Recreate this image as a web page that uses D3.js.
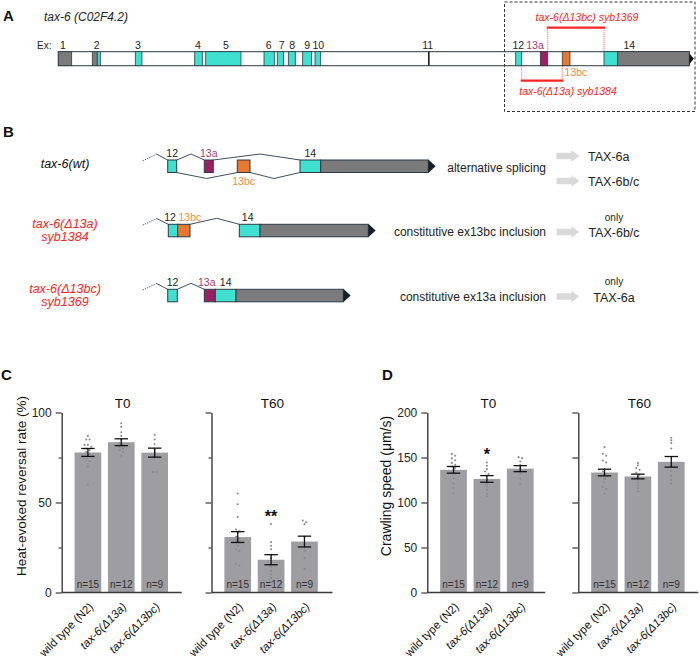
<!DOCTYPE html>
<html><head><meta charset="utf-8">
<script src="https://cdn.jsdelivr.net/npm/d3@7"></script>
<style>
body{margin:0;background:#fff}
svg{display:block}
text{font-family:"Liberation Sans",Arial,Helvetica,sans-serif}
</style>
</head><body>
<svg id="c" width="700" height="658"></svg>
<script>
// ---------------- DATA ----------------
// Panel A: gene model of tax-6 in gene units (0..1000)
const geneSegments = [
  [0,21.2,"utr"],[53.9,61.8,"utr"],[61.8,66.6,"cds"],[122,132.6,"cds"],
  [216.2,228.2,"cds"],[233.6,289.5,"cds"],[326,342.3,"cds"],[347,357.2,"cds"],
  [364.5,375.6,"cds"],[387.3,401.6,"cds"],[406.8,415.8,"cds"],[586,588.4,"tiny"],
  [724.9,734.4,"cds"],[763.9,775.6,"e13a"],[798.7,810.9,"e13bc"],
  [864.8,886.5,"cds"],[886.5,1000,"utr"]
];
const exonLabels = [
  ["1",7.4],["2",60.9],["3",126.3],["4",221.4],["5",265.8],["6",333.4],["7",354],
  ["8",370.8],["9",394.6],["10",412],["11",585.4],["12",729],["13a",755.5],["14",905]
];
const deletionBrackets = [
  {label:"tax-6(\u039413bc) syb1369", from:775.6, to:864.8, side:"top"},
  {label:"tax-6(\u039413a) syb1384", from:734.4, to:798.7, side:"bottom"}
];

// Panel B: schematic isoforms (schematic units)
const isoformRows = [
  {name:["tax-6(wt)"], red:false,
   exons:[["12",32.7,41.7,"cds",0,"top"],["13a",69.3,78.3,"e13a",0,"top"],["13bc",102.3,115,"e13bc",0,"bottom"],["14",165,185.7,"cds",0,"top"],["",185.7,293.3,"utr",0,"top"]],
   introns:[[0,1,56,"top"],[1,3,125,"top"],[0,2,71.7,"bottom"],[2,3,139,"bottom"]],
   effect:"alternative splicing", products:[["TAX-6a",""],["TAX-6b/c",""]]},
  {name:["tax-6(\u039413a)","syb1384"], red:true,
   exons:[["12",33.3,42.7,"cds",-3,"top"],["13bc",42.7,55,"e13bc",6,"top"],["14",104.3,125,"cds",-2,"top"],["",125,233.3,"utr",0,"top"]],
   introns:[[1,2,81.7,"top"]],
   effect:"constitutive ex13bc inclusion", products:[["TAX-6b/c","only"]]},
  {name:["tax-6(\u039413bc)","syb1369"], red:true,
   exons:[["12",32.7,42.3,"cds",0,"top"],["13a",69.3,80.3,"e13a",-3,"top"],["14",80.3,101,"cds",0,"top"],["",101,208.3,"utr",0,"top"]],
   introns:[[0,1,56,"top"]],
   effect:"constitutive ex13a inclusion", products:[["TAX-6a","only"]]}
];

// Panels C & D
const genotypes = ["wild type (N2)","tax-6(\u039413a)","tax-6(\u039413bc)"];
const genotypeItalic = [false,true,true];
const nCounts = [15,12,9];

const reversalT0Mean = [77.8,83.5,77.7];
const reversalT0Sem  = [2.2,1.9,2.5];
const reversalT60Mean = [30.8,18.2,28.3];
const reversalT60Sem  = [3.0,2.8,3.0];
const reversalT0Points = [
  [87,85,85,82,82,81,80,79,78,77,76,74,73,70,60],
  [94,92,89,87,85,83,82,81,80,79,78,76],
  [87.5,85,82.4,79.3,77.8,76.5,75,66.9,66.9]
];
const reversalT60Points = [
  [55,49,42,35,34,33,31,30,29,28,26,24,23,16,15],
  [38,28,26,24,21,19,16,14,12,10,8,6],
  [40,39,38,31,27,25,23,19,13]
];
const reversalSig = ["","",""];
const reversalT60Sig = ["","**",""];

const speedT0Mean = [136.3,126.2,137.6];
const speedT0Sem  = [3.7,3.7,3.3];
const speedT60Mean = [133.3,128.9,145.2];
const speedT60Sem  = [3.7,2.6,5.9];
const speedT0Points = [
  [154,152,149,147,144,142,140,138,136,133,132,127,121,116,110],
  [144.4,140.8,137.1,134.4,131.9,129.7,125.2,120.8,117.8,114.1,109.7,106.7],
  [150.4,149.3,145.6,141.9,138.2,135.6,132.6,126.3,120.8]
];
const speedT60Points = [
  [161.5,154.1,151.9,146.7,144.4,137.1,134.4,131.9,130,128.9,126,122.2,117.1,114.9,109.7],
  [143.7,141.1,138.2,136.3,133.3,130.8,128.2,125.2,122.2,118.9,116,112.2],
  [172,169,166,160,142,135,130,125,121]
];
const speedT0Sig = ["","*",""];
const speedT60Sig = ["","",""];

const reversalMajorTicks = [0,50,100];
const reversalMinorTicks = [25,75];
const speedMajorTicks = [0,50,100,150,200];

// ---------------- STYLE ----------------
const OUT = "#2b3a47";
const COL = {utr:"#7b7b7b", cds:"#3fe0cf", e13a:"#9c1f62", e13bc:"#e8772f", tiny:"#111"};
const RED = "#ff2424";
const MAG = "#a23a78";
const ORA = "#ee8a45";
const svg = d3.select("#c");

function txt(g, x, y, s, opts={}) {
  const t = g.append("text").attr("x",x).attr("y",y).text(s)
    .attr("font-size", opts.size||12).attr("fill", opts.fill||"#111")
    .attr("text-anchor", opts.anchor||"start");
  if (opts.italic) t.attr("font-style","italic");
  if (opts.bold) t.attr("font-weight","bold");
  return t;
}

// ---------------- PANEL A ----------------
const gA = svg.append("g");
txt(gA, 3, 21, "A", {size:15, bold:true});
txt(gA, 44, 21, "tax-6 (C02F4.2)", {size:12, italic:true, fill:"#222"});
txt(gA, 37, 49, "Ex:", {size:10, fill:"#222"});
const xA = d3.scaleLinear().domain([0,1000]).range([58.3,689.3]);
const aTop = 51.7, aH = 14;
gA.append("rect").attr("x",xA(0)).attr("y",aTop).attr("width",xA(1000)-xA(0)).attr("height",aH)
  .attr("fill","#fff").attr("stroke",OUT).attr("stroke-width",1);
gA.selectAll("rect.ex").data(geneSegments).join("rect").attr("class","ex")
  .attr("x",d=>xA(d[0])).attr("width",d=>xA(d[1])-xA(d[0]))
  .attr("y",aTop).attr("height",aH).attr("fill",d=>COL[d[2]])
  .attr("stroke",d=>d[2]==="tiny"?"none":OUT).attr("stroke-width",0.8);
gA.append("path").attr("d",`M${xA(1000)},${aTop+1.5}L${xA(1000)+4.5},${aTop+aH/2}L${xA(1000)},${aTop+aH-1.5}Z`).attr("fill","#111");
gA.selectAll("text.el").data(exonLabels).join("text").attr("class","el")
  .attr("x",d=>xA(d[1])).attr("y",49).attr("text-anchor","middle").attr("font-size",10.5)
  .attr("fill",d=>d[0]==="13a"?MAG:"#222").text(d=>d[0]);
txt(gA, xA(820.4), 75.5, "13bc", {size:10.5, fill:ORA, anchor:"middle"});
// dashed box
gA.append("rect").attr("x",504.5).attr("y",2).attr("width",190.5).attr("height",109.5)
  .attr("fill","none").attr("stroke","#333").attr("stroke-width",1).attr("stroke-dasharray","3,2");
deletionBrackets.forEach(b=>{
  const yb = b.side==="top" ? 27.7 : 80.7;
  const ye = b.side==="top" ? aTop : aTop+aH;
  [b.from,b.to].forEach(v=>{
    gA.append("line").attr("x1",xA(v)).attr("x2",xA(v)).attr("y1",yb).attr("y2",ye)
      .attr("stroke",RED).attr("stroke-width",0.8).attr("stroke-dasharray","1,1");
  });
  gA.append("line").attr("x1",xA(b.from)-1).attr("x2",xA(b.to)+1).attr("y1",yb).attr("y2",yb)
    .attr("stroke",RED).attr("stroke-width",2.2);
  const cx = b.side==="top" ? 587 : 568;
  const ty = b.side==="top" ? 20.5 : 95;
  txt(gA, cx, ty, b.label, {size:10.5, italic:true, fill:RED, anchor:"middle"});
});

// ---------------- PANEL B ----------------
const gB = svg.append("g");
txt(gB, 3, 137, "B", {size:15, bold:true});
const xB = d3.scaleLinear().domain([0,300]).range([135,435]);
const rowTops = [160, 224.3, 289.3];
const eH = 12.5;
const arrowYs = [[156,181],[232],[296.5]];
isoformRows.forEach((row,ri)=>{
  const top = rowTops[ri], bot = top+eH;
  // names
  if (row.name.length===1) {
    txt(gB, 65, top+8, row.name[0], {size:12.5, italic:true, fill:"#111", anchor:"middle"});
  } else {
    txt(gB, 65, top+3.5, row.name[0], {size:12.5, italic:true, fill:RED, anchor:"middle"});
    txt(gB, 65, top+16.5, row.name[1], {size:12.5, italic:true, fill:RED, anchor:"middle"});
  }
  // leading intron
  const e0 = row.exons[0];
  gB.append("line").attr("x1",xB(7.7)).attr("y1",top+0.8).attr("x2",xB(21.7)).attr("y2",top-5.8)
    .attr("stroke",OUT).attr("stroke-width",0.9).attr("stroke-dasharray","1.2,1.2");
  gB.append("path").attr("d",`M${xB(21.7)},${top-5.8}L${xB(e0[1])},${top}`)
    .attr("fill","none").attr("stroke",OUT).attr("stroke-width",0.9);
  // introns
  row.introns.forEach(([a,b,px,side])=>{
    const ea=row.exons[a], eb=row.exons[b];
    const y0 = side==="top"?top:bot;
    const yp = side==="top"?top-6:bot+6;
    gB.append("path").attr("d",`M${xB(ea[2])},${y0}L${xB(px)},${yp}L${xB(eb[1])},${y0}`)
      .attr("fill","none").attr("stroke",OUT).attr("stroke-width",0.9);
  });
  // exons
  row.exons.forEach(e=>{
    gB.append("rect").attr("x",xB(e[1])).attr("y",top).attr("width",xB(e[2])-xB(e[1])).attr("height",eH)
      .attr("fill",COL[e[3]]).attr("stroke",OUT).attr("stroke-width",1);
    if (e[0]) {
      const cx = (xB(e[1])+xB(e[2]))/2 + e[4];
      const fill = e[0]==="13a"?MAG:(e[0]==="13bc"?ORA:"#222");
      const y = e[5]==="top" ? top-3.3 : bot+12.5;
      txt(gB, cx, y, e[0], {size:10.5, fill, anchor:"middle"});
    }
  });
  const last = row.exons[row.exons.length-1];
  const xe = xB(last[2]);
  gB.append("path").attr("d",`M${xe},${top-0.5}L${xe+7.3},${top+eH/2}L${xe},${bot+0.5}Z`).attr("fill","#10202e");
  // effect text
  const effY = [172, 236, 300.5][ri];
  txt(gB, 546, effY, row.effect, {size:12, fill:"#222", anchor:"end"});
  // arrows + products
  row.products.forEach((p,pi)=>{
    const ay = arrowYs[ri][pi];
    gB.append("path").attr("d",`M556.5,${ay-3.2}L571.5,${ay-3.2}L571.5,${ay-5.8}L579.5,${ay}L571.5,${ay+5.8}L571.5,${ay+3.2}L556.5,${ay+3.2}Z`)
      .attr("fill","#d9d9d9");
    if (p[1]) {
      txt(gB, 614, ay-11.5, p[1], {size:10, fill:"#222", anchor:"middle"});
      txt(gB, 614, ay+5, p[0], {size:12.5, fill:"#222", anchor:"middle"});
    } else {
      txt(gB, 588, ay+4.5, p[0], {size:12.5, fill:"#222"});
    }
  });
});

// ---------------- PANELS C & D ----------------
const yTop = 412.5, yBot = 592.5;
const yRev = d3.scaleLinear().domain([0,100]).range([yBot,yTop]);
const ySpd = d3.scaleLinear().domain([0,200]).range([yBot,yTop]);
const AX = "#3a3a3a";

function swarm(vals, y, cx) {
  const s = vals.map(v=>({v, y:y(v)})).sort((a,b)=>a.y-b.y);
  const out=[]; let grp=[];
  const flush=()=>{grp.forEach((d,i)=>out.push({x:cx+(i-(grp.length-1)/2)*3.4, y:d.y})); grp=[];};
  s.forEach(d=>{ if(grp.length && d.y-grp[0].y>2.3) flush(); grp.push(d); });
  flush();
  return out;
}

function panel(axisX, y, means, sems, points, major, minor, showLabels, title, sig, panelW) {
  const g = svg.append("g");
  const x = d3.scaleBand().domain(genotypes).range([axisX+6.2, axisX+113]).paddingInner(0.2).paddingOuter(0.2);
  const bw = x.bandwidth();
  // bars
  g.selectAll("rect.bar").data(genotypes).join("rect").attr("class","bar")
    .attr("x",d=>x(d)).attr("width",bw).attr("y",(d,i)=>y(means[i])).attr("height",(d,i)=>yBot-y(means[i]))
    .attr("fill","#9e9da2");
  // n labels
  g.selectAll("text.n").data(genotypes).join("text").attr("class","n")
    .attr("x",d=>x(d)+bw/2).attr("y",588.3).attr("text-anchor","middle").attr("font-size",10)
    .attr("fill","#333").text((d,i)=>"n="+nCounts[i]);
  // dots
  genotypes.forEach((gn,i)=>{
    const pts = swarm(points[i], y, x(gn)+bw/2);
    g.selectAll(null).data(pts).join("circle").attr("cx",d=>d.x).attr("cy",d=>d.y).attr("r",1.05).attr("fill","#8a8a8a");
  });
  // error bars
  genotypes.forEach((gn,i)=>{
    const cx = x(gn)+bw/2, hi=y(means[i]+sems[i]), lo=y(means[i]-sems[i]);
    g.append("line").attr("x1",cx).attr("x2",cx).attr("y1",hi).attr("y2",lo).attr("stroke","#111").attr("stroke-width",1.3);
    [hi,lo].forEach(v=>g.append("line").attr("x1",cx-6.7).attr("x2",cx+6.7).attr("y1",v).attr("y2",v).attr("stroke","#111").attr("stroke-width",1.3));
    if (sig[i]) txt(g, cx, y(d3.max(points[i]))-2.5, sig[i], {size:16, bold:true, anchor:"middle", fill:"#111"});
  });
  // y axis
  const ya = d3.axisLeft(y).tickValues(major).tickSize(6).tickSizeOuter(0).tickFormat(showLabels?d3.format("d"):()=>"");
  const yg = g.append("g").attr("transform",`translate(${axisX},0)`).call(ya);
  yg.selectAll("text").attr("font-size",12).attr("fill","#222").attr("dx","-1")
    .style("font-family",'"Liberation Sans",Arial,sans-serif');
  if (minor.length) {
    const ym = d3.axisLeft(y).tickValues(minor).tickSize(3).tickFormat(()=>"");
    const mg = g.append("g").attr("transform",`translate(${axisX},0)`).call(ym);
    mg.select(".domain").remove();
    mg.selectAll("line").attr("stroke",AX).attr("stroke-width",1.2);
  }
  yg.select(".domain").attr("stroke",AX).attr("stroke-width",1.4);
  yg.selectAll(".tick line").attr("stroke",AX).attr("stroke-width",1.2);
  // x axis line
  g.append("line").attr("x1",axisX).attr("x2",axisX+panelW).attr("y1",yBot).attr("y2",yBot).attr("stroke",AX).attr("stroke-width",1.4);
  // x labels
  genotypes.forEach((gn,i)=>{
    const cx = x(gn)+bw/2+6, cy = yBot+15;
    g.append("text").attr("transform",`translate(${cx},${cy}) rotate(-45)`).attr("text-anchor","end")
      .attr("font-size",11.5).attr("fill","#111").attr("font-style",genotypeItalic[i]?"italic":"normal").text(gn);
  });
  txt(g, axisX+61, 407.5, title, {size:13.5, anchor:"middle", fill:"#111"});
}

// Panel C
txt(svg, 1, 380, "C", {size:15, bold:true});
panel(61.7, yRev, reversalT0Mean, reversalT0Sem, reversalT0Points, reversalMajorTicks, reversalMinorTicks, true, "T0", reversalSig, 120);
panel(211.5, yRev, reversalT60Mean, reversalT60Sem, reversalT60Points, reversalMajorTicks, reversalMinorTicks, false, "T60", reversalT60Sig, 121);
svg.append("text").attr("transform","translate(25.5,486) rotate(-90)").attr("text-anchor","middle")
  .attr("font-size",13.5).attr("fill","#111").text("Heat-evoked reversal rate (%)");

// Panel D
txt(svg, 382, 380, "D", {size:15, bold:true});
panel(427.3, ySpd, speedT0Mean, speedT0Sem, speedT0Points, speedMajorTicks, [], true, "T0", speedT0Sig, 118);
panel(578.3, ySpd, speedT60Mean, speedT60Sem, speedT60Points, speedMajorTicks, [], false, "T60", speedT60Sig, 120);
svg.append("text").attr("transform","translate(391,486) rotate(-90)").attr("text-anchor","middle")
  .attr("font-size",14).attr("fill","#111").text("Crawling speed (\u03bcm/s)");
</script>
</body></html>
